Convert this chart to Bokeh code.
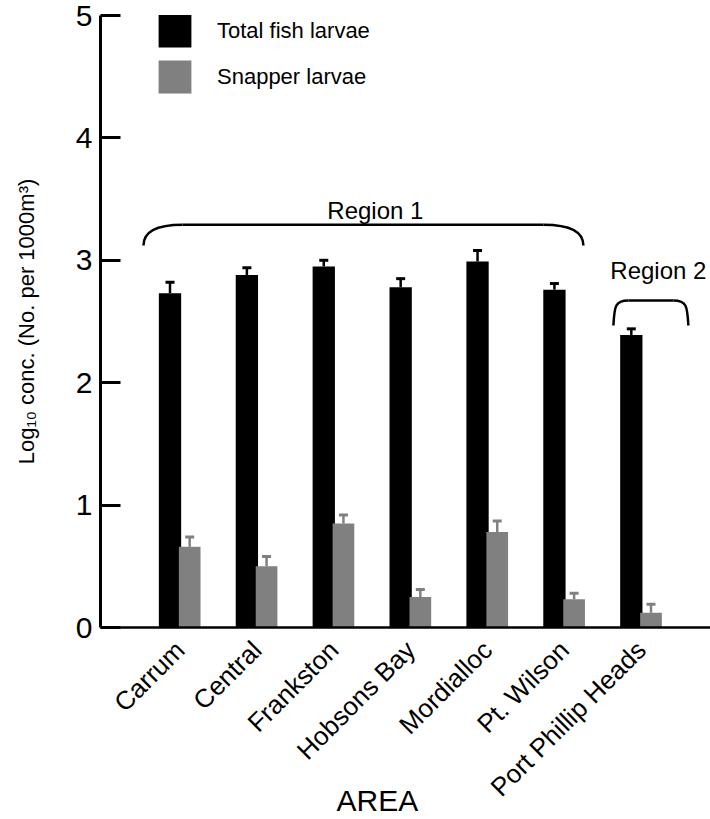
import numpy as np
from bokeh.plotting import figure
from bokeh.models import (ColumnDataSource, Whisker, TeeHead, FixedTicker, Label,
                          Legend, LegendItem, Range1d, Title)
from bokeh.embed import file_html
from bokeh.resources import INLINE

# ---------------- data ----------------
areas = ["Carrum", "Central", "Frankston", "Hobsons Bay", "Mordialloc",
         "Pt. Wilson", "Port Phillip Heads"]
total_mean = [2.73, 2.88, 2.95, 2.78, 2.99, 2.76, 2.39]
total_se = [0.09, 0.06, 0.05, 0.07, 0.09, 0.05, 0.05]
snapper_mean = [0.66, 0.50, 0.85, 0.25, 0.78, 0.23, 0.12]
snapper_se = [0.08, 0.08, 0.07, 0.06, 0.09, 0.05, 0.07]
y_ticks = [0, 1, 2, 3, 4, 5]
series_names = ["Total fish larvae", "Snapper larvae"]
region_names = ["Region 1", "Region 2"]

FONT = "Liberation Sans"
BLACK = "#000000"
GRAY = "#808080"

idx = np.arange(len(areas))
tot = ColumnDataSource(dict(
    x=idx - 0.13, top=total_mean,
    upper=np.array(total_mean) + np.array(total_se), lower=total_mean))
snp = ColumnDataSource(dict(
    x=idx + 0.126, top=snapper_mean,
    upper=np.array(snapper_mean) + np.array(snapper_se), lower=snapper_mean))

p = figure(width=710, height=819, output_backend="svg", toolbar_location=None,
           x_range=Range1d(-1.034, 6.9), y_range=Range1d(0, 5),
           min_border_left=100, min_border_right=0, min_border_top=15,
           min_border_bottom=192)
p.outline_line_color = None
p.xgrid.visible = False
p.ygrid.visible = False
p.background_fill_color = "white"
p.border_fill_color = "white"

r_tot = p.vbar(x="x", top="top", width=0.29, bottom=0, source=tot,
               fill_color=BLACK, line_color=None)
r_snp = p.vbar(x="x", top="top", width=0.282, bottom=0, source=snp,
               fill_color=GRAY, line_color=None)

for src, col in ((tot, BLACK), (snp, GRAY)):
    w = Whisker(source=src, base="x", upper="upper", lower="lower",
                dimension="height", line_color=col, line_width=2.5,
                lower_head=None,
                upper_head=TeeHead(size=9, line_color=col, line_width=3))
    p.add_layout(w)

# axes
yax = p.yaxis[0]
yax.ticker = FixedTicker(ticks=y_ticks)
yax.minor_tick_line_color = None
yax.major_tick_in = 20
yax.major_tick_out = 0
yax.major_tick_line_width = 3
yax.axis_line_width = 3
yax.major_label_standoff = 8
yax.major_label_text_font = FONT
yax.major_label_text_font_size = "30px"
yax.major_label_text_color = "black"
yax.axis_label = "Log\u2081\u2080 conc. (No. per 1000m\u00b3)"
yax.axis_label_text_font = FONT
yax.axis_label_text_font_size = "22px"
yax.axis_label_text_font_style = "normal"
yax.axis_label_text_color = "black"
yax.axis_label_standoff = 34

xax = p.xaxis[0]
xax.ticker = FixedTicker(ticks=list(idx))
xax.major_label_overrides = {int(i): a for i, a in zip(idx, areas)}
xax.minor_tick_line_color = None
xax.major_tick_in = 0
xax.major_tick_out = 0
xax.axis_line_width = 2.5
xax.major_label_orientation = np.pi / 4
xax.major_label_standoff = 18
xax.major_label_text_font = FONT
xax.major_label_text_font_size = "26px"
xax.major_label_text_color = "black"

# x axis title: pulled up beside the slanted labels (negative standoff)
p.add_layout(Title(text="AREA", align="left", offset=236, vertical_align="top",
                   standoff=-63, text_font=FONT,
                   text_font_size="30px", text_font_style="normal",
                   text_color="black"), "below")

# region braces
LW = 2.5
p.quadratic(x0=[-0.475], y0=[3.121], x1=[0.033], y1=[3.291], cx=[-0.475], cy=[3.291],
            line_color="black", line_width=LW)
p.segment(x0=[0.033], y0=[3.291], x1=[4.727], y1=[3.291], line_color="black", line_width=LW)
p.quadratic(x0=[4.727], y0=[3.291], x1=[5.247], y1=[3.121], cx=[5.247], cy=[3.291],
            line_color="black", line_width=LW)

p.bezier(x0=[5.637], y0=[2.467], x1=[5.832], y1=[2.672], cx0=[5.650], cy0=[2.631],
         cx1=[5.663], cy1=[2.672], line_color="black", line_width=LW)
p.segment(x0=[5.832], y0=[2.672], x1=[6.417], y1=[2.672], line_color="black", line_width=LW)
p.bezier(x0=[6.417], y0=[2.672], x1=[6.612], y1=[2.467], cx0=[6.586], cy0=[2.672],
         cx1=[6.599], cy1=[2.631], line_color="black", line_width=LW)

p.add_layout(Label(x=2.541, y=3.41, text=region_names[0], text_font=FONT,
                   text_font_size="24px", text_align="center",
                   text_baseline="alphabetic", text_color="black"))
p.add_layout(Label(x=6.222, y=2.915, text=region_names[1], text_font=FONT,
                   text_font_size="24px", text_align="center",
                   text_baseline="alphabetic", text_color="black"))

legend = Legend(items=[LegendItem(label=series_names[0], renderers=[r_tot]),
                       LegendItem(label=series_names[1], renderers=[r_snp])],
                location=(54, 530), padding=0, margin=0, spacing=5,
                glyph_width=41, glyph_height=41, label_standoff=22,
                label_text_font=FONT, label_text_font_size="22px",
                label_text_color="black",
                border_line_color=None, background_fill_alpha=0)
p.add_layout(legend)

open("out.html", "w").write(file_html(p, INLINE))
